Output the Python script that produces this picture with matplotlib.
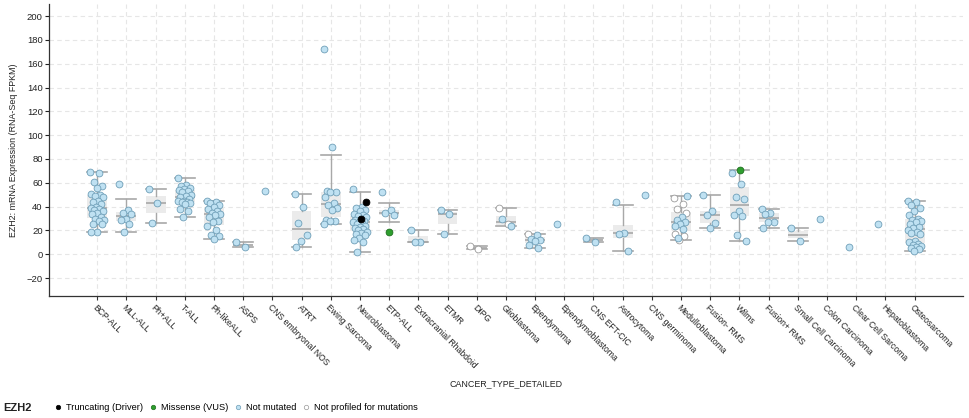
import numpy as np
import matplotlib
matplotlib.use("Agg")
import matplotlib.pyplot as plt
from matplotlib import cbook
from matplotlib.lines import Line2D

plt.rcParams["font.family"] = ["Liberation Sans", "DejaVu Sans"]

# ============================================================
# Data (EZH2 mRNA expression, FPKM)
# ============================================================
categories = [
    "BCP-ALL", "MLL-ALL", "Ph+ALL", "T-ALL", "Ph-likeALL", "ASPS",
    "CNS embryonal NOS", "ATRT", "Ewing Sarcoma", "Neuroblastoma", "ETP-ALL",
    "Extracranial Rhabdoid", "ETMR", "DIPG", "Glioblastoma", "Ependymoma",
    "Ependymoblastoma", "CNS EFT-CIC", "Astrocytoma", "CNS germinoma",
    "Medulloblastoma", "Fusion- RMS", "Wilms", "Fusion+ RMS",
    "Small Cell Carcinoma", "Colon Carcinoma", "Clear Cell Sarcoma",
    "Hepatoblastoma", "Osteosarcoma",
]

not_mutated = [
    [69, 68, 61, 57, 56, 51, 50, 49, 48, 45, 44, 42, 40, 39, 38, 37, 36, 35, 34, 31, 30, 29, 28, 25, 25, 19, 19],
    [59, 37, 35, 34, 30, 29, 25, 19],
    [55, 43, 26],
    [64, 58, 57, 56, 55, 54, 53, 52, 50, 49, 48, 46, 45, 45, 44, 44, 43, 42, 38, 36, 31],
    [45, 44, 43, 41, 40, 38, 36, 35, 34, 33, 31, 28, 27, 24, 20, 16, 15, 13],
    [10, 6],
    [53],
    [51, 40, 26, 16, 11, 6],
    [172, 90, 53, 52, 52, 48, 43, 41, 39, 37, 29, 28, 28, 25],
    [55, 40, 39, 37, 36, 34, 33, 32, 31, 30, 29, 28, 27, 27, 26, 25, 24, 23, 22, 21, 20, 19, 18, 17, 16, 14, 12, 10, 2],
    [52, 37, 35, 33],
    [20, 10, 10],
    [37, 34, 17],
    [],
    [30, 24],
    [16, 13, 12, 11, 8, 5],
    [25],
    [14, 10],
    [44, 18, 17, 3],
    [50],
    [49, 31, 29, 27, 25, 24, 21, 14],
    [50, 36, 33, 26, 22],
    [68, 59, 48, 46, 36, 33, 32, 16, 11],
    [38, 35, 34, 27, 27, 22],
    [22, 11],
    [30],
    [6],
    [25],
    [45, 44, 41, 39, 36, 33, 30, 29, 28, 27, 25, 23, 22, 20, 19, 18, 17, 11, 10, 9, 8, 7, 6, 5, 4, 3],
]

truncating = {"Neuroblastoma": [44, 30]}
missense = {"ETP-ALL": [19], "Wilms": [71]}
not_profiled = {
    "DIPG": [7, 4],
    "Glioblastoma": [39, 25],
    "Ependymoma": [17],
    "Medulloblastoma": [47, 42, 38, 35, 28, 17, 15, 12],
}

yticks = list(range(-20, 201, 20))

# ============================================================
# Styles
# ============================================================
C_NOTMUT = "#bfe1f2"
C_NOTMUT_EDGE = "#6f9fb8"
C_TRUNC = "#000000"
C_MISS = "#2e9e2e"
C_NOTPROF = "#ffffff"
C_NOTPROF_EDGE = "#9a9a9a"
BOX_GRAY = "#a8a8a8"
TXT = "#222222"


def jitter(n, start=0):
    k = np.arange(start, start + n)
    return ((k * 0.618034) % 1.0 - 0.5) * 0.48


fig = plt.figure(figsize=(9.69, 4.18), dpi=100)
ax = fig.add_axes([0.0506, 0.292, 0.943, 0.698])

# --- Box plots (whiskers: Q +/- 1.5 IQR, clipped to data range) ---
stats, positions = [], []
for i, cat in enumerate(categories):
    vals = (not_mutated[i] + truncating.get(cat, []) + missense.get(cat, [])
            + not_profiled.get(cat, []))
    if len(vals) < 2:
        continue
    st = cbook.boxplot_stats(vals)[0]
    iqr = st["q3"] - st["q1"]
    st["whishi"] = min(max(vals), st["q3"] + 1.5 * iqr)
    st["whislo"] = max(min(vals), st["q1"] - 1.5 * iqr)
    st["fliers"] = []
    stats.append(st)
    positions.append(i)

ax.bxp(stats, positions=positions, widths=0.68, capwidths=0.68,
       patch_artist=True, showfliers=False, manage_ticks=False,
       boxprops=dict(facecolor="#ebebeb", edgecolor="none"),
       medianprops=dict(color=BOX_GRAY, lw=1.2),
       whiskerprops=dict(color=BOX_GRAY, lw=1.0),
       capprops=dict(color=BOX_GRAY, lw=1.2))

# --- Points ---
for i, cat in enumerate(categories):
    start = 0
    groups = [
        (not_profiled.get(cat, []), C_NOTPROF, C_NOTPROF_EDGE),
        (not_mutated[i], C_NOTMUT, C_NOTMUT_EDGE),
        (missense.get(cat, []), C_MISS, "#1f6f1f"),
        (truncating.get(cat, []), C_TRUNC, "#000000"),
    ]
    for vals, fc, ec in groups:
        if not vals:
            continue
        xs = i + jitter(len(vals), start)
        start += len(vals)
        ax.scatter(xs, vals, s=24, facecolor=fc, edgecolor=ec,
                   linewidth=0.6, zorder=3)

# --- Axes ---
ax.set_xlim(-1.65, len(categories) - 1 + 1.65)
ax.set_ylim(-35, 210)
ax.set_yticks(yticks)
ax.set_xticks(range(len(categories)))
ax.set_xticklabels(categories, rotation=-45, ha="left", va="top",
                   rotation_mode="anchor", fontsize=6.2, color=TXT)
ax.tick_params(axis="y", labelsize=6.8, colors=TXT, length=3, width=0.8,
               pad=1.5)
ax.tick_params(axis="x", length=3, width=0.8, color="#333333", pad=2)
ax.grid(True, color="#e6e6e6", linestyle=(0, (4, 3)), linewidth=0.8)
ax.set_axisbelow(True)
for side in ["top", "right"]:
    ax.spines[side].set_visible(False)
for side in ["left", "bottom"]:
    ax.spines[side].set_color("#333333")
    ax.spines[side].set_linewidth(0.9)

ax.set_ylabel("EZH2: mRNA Expression (RNA-Seq FPKM)", fontsize=6.4,
              color=TXT, labelpad=6)
fig.text(0.522, 1 - 384 / 418, "CANCER_TYPE_DETAILED", ha="center",
         va="center", fontsize=6.4, color=TXT)

# --- Legend ---
fig.text(0.003, 1 - 408 / 418, "EZH2", fontsize=8, fontweight="bold",
         va="center", ha="left", color=TXT)
handles = [
    Line2D([], [], ls="", marker="o", ms=3.2, mfc=C_TRUNC, mec=C_TRUNC, mew=0.5),
    Line2D([], [], ls="", marker="o", ms=3.2, mfc=C_MISS, mec="#1f6f1f", mew=0.5),
    Line2D([], [], ls="", marker="o", ms=3.2, mfc=C_NOTMUT, mec=C_NOTMUT_EDGE, mew=0.5),
    Line2D([], [], ls="", marker="o", ms=3.2, mfc=C_NOTPROF, mec=C_NOTPROF_EDGE, mew=0.5),
]
labels = ["Truncating (Driver)", "Missense (VUS)", "Not mutated",
          "Not profiled for mutations"]
fig.legend(handles, labels, loc="center left",
           bbox_to_anchor=(0.056, 1 - 408 / 418), ncol=4, frameon=False,
           fontsize=6.7, handlelength=0.8, handletextpad=0.5,
           columnspacing=0.6, borderpad=0, borderaxespad=0)

plt.savefig("out.png", dpi=100)
plt.close()
